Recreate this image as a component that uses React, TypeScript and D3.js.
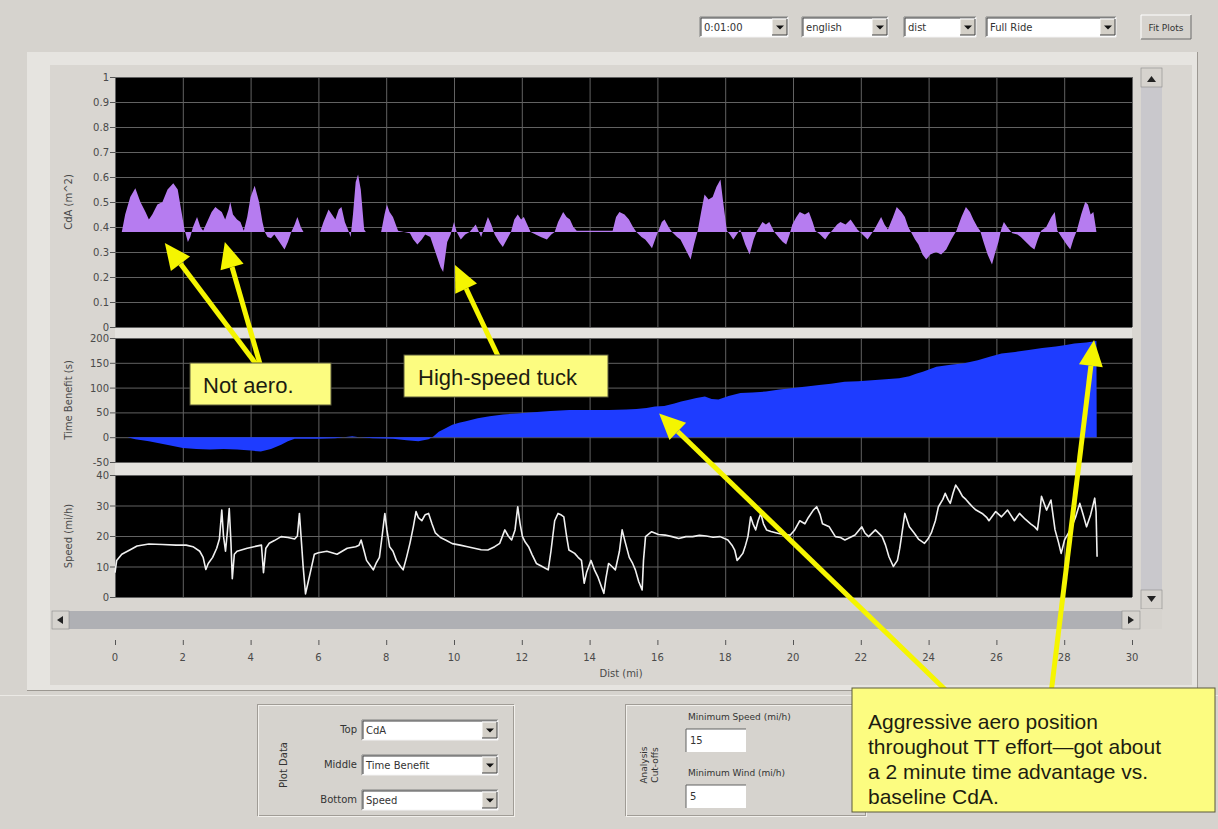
import React from "react";
import * as d3 from "d3";

// ---------- data ----------
const xTicks = [0, 2, 4, 6, 8, 10, 12, 14, 16, 18, 20, 22, 24, 26, 28, 30];
const cdaTicks = [0, 0.1, 0.2, 0.3, 0.4, 0.5, 0.6, 0.7, 0.8, 0.9, 1];
const tbTicks = [-50, 0, 50, 100, 150, 200];
const speedTicks = [0, 10, 20, 30, 40];
const cdaBaseline = 0.38;

const cdaData: [number, number][] = [
  [0.2, 0.38], [0.3, 0.45], [0.45, 0.52], [0.6, 0.555], [0.75, 0.5], [0.9, 0.46], [1.0, 0.43], [1.1, 0.45],
  [1.25, 0.49], [1.4, 0.5], [1.55, 0.55], [1.72, 0.575], [1.85, 0.55], [1.95, 0.47], [2.05, 0.39], [2.15, 0.34],
  [2.22, 0.36], [2.3, 0.4], [2.42, 0.44], [2.52, 0.4], [2.6, 0.385], [2.75, 0.43], [2.85, 0.46], [2.96, 0.48],
  [3.05, 0.47], [3.15, 0.46], [3.25, 0.43], [3.35, 0.47], [3.4, 0.5], [3.48, 0.45], [3.6, 0.43], [3.7, 0.42],
  [3.8, 0.385], [3.9, 0.44], [4.0, 0.52], [4.12, 0.565], [4.25, 0.5], [4.35, 0.42], [4.42, 0.38], [4.5, 0.36],
  [4.6, 0.355], [4.7, 0.37], [4.8, 0.35], [4.9, 0.33], [5.0, 0.31], [5.1, 0.34], [5.2, 0.38], [5.3, 0.41],
  [5.38, 0.44], [5.48, 0.4], [5.56, 0.38], [6.05, 0.38], [6.15, 0.42], [6.3, 0.47], [6.4, 0.45], [6.5, 0.43],
  [6.6, 0.47], [6.68, 0.48], [6.78, 0.42], [6.9, 0.38], [6.95, 0.36], [7.02, 0.45], [7.1, 0.58], [7.17, 0.61],
  [7.25, 0.55], [7.35, 0.39], [7.4, 0.38], [7.85, 0.38], [7.95, 0.45], [8.02, 0.49], [8.1, 0.46], [8.2, 0.44],
  [8.35, 0.385], [8.7, 0.375], [8.8, 0.35], [8.92, 0.33], [9.05, 0.35], [9.15, 0.37], [9.3, 0.36], [9.45, 0.3],
  [9.6, 0.24], [9.68, 0.22], [9.8, 0.34], [9.9, 0.37], [10.0, 0.42], [10.08, 0.38], [10.2, 0.35], [10.33, 0.37],
  [10.46, 0.38], [10.64, 0.41], [10.8, 0.36], [10.9, 0.4], [11.0, 0.44], [11.1, 0.41], [11.2, 0.37], [11.33, 0.34],
  [11.44, 0.32], [11.56, 0.35], [11.68, 0.38], [11.78, 0.43], [11.88, 0.45], [11.98, 0.43], [12.06, 0.44],
  [12.16, 0.41], [12.26, 0.38], [12.41, 0.37], [12.56, 0.36], [12.74, 0.35], [12.87, 0.37], [12.97, 0.38],
  [13.07, 0.42], [13.22, 0.46], [13.32, 0.44], [13.42, 0.43], [13.52, 0.4], [13.62, 0.385], [14.68, 0.385],
  [14.78, 0.44], [14.88, 0.46], [15.03, 0.45], [15.16, 0.43], [15.28, 0.4], [15.38, 0.38], [15.53, 0.36],
  [15.64, 0.35], [15.76, 0.33], [15.84, 0.315], [15.96, 0.36], [16.03, 0.385], [16.13, 0.42], [16.21, 0.43],
  [16.33, 0.4], [16.43, 0.38], [16.58, 0.36], [16.68, 0.35], [16.83, 0.31], [16.98, 0.27], [17.08, 0.33],
  [17.19, 0.385], [17.29, 0.46], [17.39, 0.53], [17.51, 0.51], [17.63, 0.52], [17.74, 0.56], [17.86, 0.59],
  [17.94, 0.5], [18.05, 0.385], [18.14, 0.37], [18.24, 0.35], [18.34, 0.37], [18.44, 0.39], [18.59, 0.33],
  [18.72, 0.29], [18.84, 0.35], [18.94, 0.385], [19.1, 0.42], [19.2, 0.41], [19.3, 0.42], [19.45, 0.38],
  [19.6, 0.355], [19.7, 0.34], [19.8, 0.33], [19.9, 0.37], [19.98, 0.41], [20.1, 0.44], [20.2, 0.46],
  [20.35, 0.45], [20.47, 0.46], [20.58, 0.42], [20.66, 0.385], [20.8, 0.37], [20.95, 0.35], [21.05, 0.37],
  [21.15, 0.385], [21.3, 0.41], [21.4, 0.42], [21.55, 0.41], [21.7, 0.43], [21.8, 0.41], [21.9, 0.39],
  [22.05, 0.37], [22.2, 0.35], [22.3, 0.37], [22.4, 0.39], [22.52, 0.42], [22.6, 0.44], [22.7, 0.41],
  [22.8, 0.39], [22.95, 0.44], [23.06, 0.48], [23.2, 0.46], [23.3, 0.44], [23.4, 0.4], [23.5, 0.375],
  [23.6, 0.35], [23.7, 0.33], [23.82, 0.29], [23.93, 0.27], [24.05, 0.29], [24.22, 0.3], [24.37, 0.29],
  [24.52, 0.31], [24.67, 0.35], [24.82, 0.385], [24.97, 0.44], [25.1, 0.48], [25.22, 0.46], [25.32, 0.43],
  [25.44, 0.4], [25.52, 0.385], [25.62, 0.34], [25.74, 0.29], [25.87, 0.25], [25.97, 0.3], [26.06, 0.34],
  [26.14, 0.39], [26.22, 0.42], [26.32, 0.4], [26.47, 0.375], [26.62, 0.37], [26.72, 0.36], [26.87, 0.34],
  [27.02, 0.32], [27.12, 0.31], [27.22, 0.35], [27.32, 0.385], [27.47, 0.4], [27.62, 0.44], [27.72, 0.46],
  [27.8, 0.385], [27.92, 0.36], [28.07, 0.33], [28.18, 0.31], [28.27, 0.35], [28.37, 0.385], [28.5, 0.45],
  [28.62, 0.5], [28.7, 0.49], [28.78, 0.45], [28.86, 0.46], [28.93, 0.4], [28.95, 0.38],
];

const tbData: [number, number][] = [
  [0.37, 0], [0.6, -4], [1.0, -8], [1.3, -12], [1.6, -16], [2.0, -22], [2.4, -24], [2.8, -25], [3.2, -24],
  [3.6, -25], [4.0, -27], [4.3, -29], [4.6, -24], [4.9, -15], [5.1, -8], [5.3, -3], [6.0, -3], [6.5, -2],
  [7.0, 2], [7.2, 0], [7.6, -2], [8.2, -3], [8.6, -6], [8.95, -8], [9.25, -4], [9.4, 2], [9.55, 11],
  [9.75, 18], [9.95, 25], [10.15, 29], [10.35, 32], [10.7, 38], [11.05, 42], [11.45, 46], [11.85, 48],
  [12.25, 50], [12.85, 53], [13.4, 55], [14.05, 55], [14.58, 55], [15.08, 56], [15.38, 57], [15.68, 59],
  [15.93, 62], [16.2, 63], [16.5, 68], [16.7, 72], [16.9, 75], [17.15, 79], [17.4, 82], [17.6, 77],
  [17.8, 76], [18.1, 83], [18.45, 89], [18.8, 90], [19.2, 92], [19.6, 96], [20.0, 99], [20.4, 102],
  [20.77, 105], [21.12, 108], [21.52, 112], [21.92, 113], [22.33, 115], [22.73, 117], [23.13, 119],
  [23.43, 123], [23.63, 128], [23.83, 132], [24.03, 137], [24.23, 142], [24.65, 146], [25.05, 149],
  [25.45, 155], [25.8, 162], [26.15, 169], [26.55, 172], [26.95, 176], [27.35, 180], [27.75, 183],
  [28.05, 186], [28.3, 189], [28.65, 191], [28.85, 193], [28.95, 194], [28.96, 0],
];

const speedData: [number, number][] = [
  [0, 8], [0.05, 12], [0.2, 14], [0.45, 15.5], [0.65, 16.7], [1.0, 17.4], [1.4, 17.2], [1.8, 17], [2.1, 17],
  [2.3, 16.5], [2.5, 15], [2.6, 13], [2.68, 9], [2.75, 11], [2.88, 13], [3.0, 16], [3.08, 19], [3.15, 28.5],
  [3.2, 20], [3.26, 15], [3.32, 22], [3.37, 29], [3.42, 18], [3.46, 6], [3.52, 14], [3.6, 15], [3.9, 16],
  [4.1, 16.5], [4.32, 17], [4.38, 8], [4.45, 16], [4.55, 17.6], [4.7, 18.5], [4.9, 19.8], [5.1, 19.5],
  [5.3, 19], [5.38, 20], [5.44, 27.4], [5.5, 18], [5.55, 10], [5.62, 1], [5.7, 5], [5.78, 9], [5.88, 14],
  [6.0, 14.5], [6.25, 15], [6.4, 14.5], [6.55, 14], [6.7, 15], [6.85, 16], [7.1, 16.5], [7.2, 17],
  [7.26, 18.7], [7.35, 15], [7.42, 12], [7.55, 10], [7.62, 8.9], [7.7, 11], [7.8, 13], [7.88, 20],
  [7.96, 27.4], [8.02, 22], [8.1, 16.5], [8.2, 15], [8.3, 12], [8.42, 10], [8.5, 8.9], [8.6, 13],
  [8.7, 17.6], [8.8, 23], [8.88, 28], [8.95, 26], [9.05, 25], [9.15, 27], [9.25, 27.4], [9.35, 24],
  [9.45, 21], [9.6, 19.5], [9.75, 18.7], [9.95, 17.5], [10.18, 17], [10.4, 16.5], [10.6, 16], [10.8, 15.5],
  [11.0, 15.4], [11.2, 16.5], [11.35, 17.6], [11.5, 22], [11.6, 20], [11.7, 18.7], [11.8, 22], [11.88, 29.6],
  [11.95, 24], [12.02, 19.8], [12.1, 18], [12.2, 16.5], [12.3, 14], [12.43, 11], [12.6, 10], [12.78, 8.9],
  [12.86, 15], [12.97, 25], [13.07, 27.4], [13.15, 27], [13.24, 26.3], [13.32, 20], [13.39, 15.4],
  [13.56, 14.3], [13.66, 13], [13.76, 12], [13.84, 4.5], [13.91, 8], [14.04, 12], [14.14, 9], [14.24, 6.7],
  [14.36, 3], [14.42, 1.2], [14.48, 6], [14.56, 11], [14.66, 10], [14.76, 8.9], [14.88, 15], [14.96, 22],
  [15.05, 18], [15.17, 13], [15.27, 11], [15.35, 8.9], [15.45, 5], [15.55, 2.3], [15.59, 12], [15.65, 19.8],
  [15.83, 21.4], [16.03, 20.5], [16.23, 20.3], [16.43, 19.8], [16.63, 19.2], [16.84, 19.8], [17.04, 19.8],
  [17.24, 20.2], [17.44, 20], [17.64, 19.6], [17.85, 19.8], [18.08, 18.7], [18.2, 17], [18.28, 15.4],
  [18.35, 12], [18.43, 13], [18.52, 14.3], [18.6, 17], [18.67, 19.8], [18.75, 26.3], [18.82, 24], [18.9, 22],
  [18.97, 25], [19.05, 27.4], [19.13, 24], [19.22, 22], [19.35, 21.5], [19.52, 21], [19.7, 20.5],
  [19.92, 20.3], [20.05, 22], [20.2, 25], [20.35, 24], [20.45, 26], [20.6, 28.5], [20.7, 29.6], [20.8, 27],
  [20.87, 24], [21.07, 23], [21.25, 19.8], [21.4, 19.5], [21.53, 18.7], [21.68, 19.5], [21.83, 20.3],
  [22.03, 23], [22.12, 21], [22.23, 19.8], [22.43, 22], [22.63, 19.8], [22.73, 17], [22.83, 13.2],
  [22.96, 10], [23.08, 12], [23.15, 16], [23.2, 19.8], [23.3, 27.4], [23.43, 23], [23.58, 20.9], [23.7, 19],
  [23.88, 17.6], [23.98, 19], [24.08, 21], [24.2, 25], [24.29, 29.6], [24.42, 32], [24.49, 34], [24.57, 32],
  [24.64, 30.7], [24.72, 34], [24.8, 36.7], [24.9, 35], [25.0, 33], [25.1, 32], [25.2, 30.7], [25.3, 29.5],
  [25.4, 28.5], [25.58, 27.4], [25.72, 26], [25.78, 25], [25.98, 28], [26.15, 26.3], [26.33, 28.5],
  [26.53, 25], [26.68, 27.4], [26.85, 25.5], [27.01, 24], [27.13, 23], [27.21, 22], [27.28, 28], [27.33, 33],
  [27.43, 30], [27.48, 28.5], [27.61, 31.8], [27.68, 26], [27.73, 22], [27.83, 18], [27.91, 14.3],
  [28.01, 18.7], [28.18, 22], [28.33, 26], [28.46, 30.7], [28.56, 27], [28.66, 23], [28.78, 27],
  [28.9, 32.4], [28.94, 28], [28.97, 13.2],
];

// ---------- helpers ----------
const UI_FONT = "'DejaVu Sans', 'Liberation Sans', sans-serif";
const CALLOUT_FONT = "'Liberation Sans', Arial, sans-serif";
const BG = "#d6d3ce";

function Combo({ x, y, w, h, text }: { x: number; y: number; w: number; h: number; text: string }) {
  const bw = 15;
  return (
    <g>
      <rect x={x} y={y} width={w} height={h} fill="#ffffff" />
      <path d={`M${x},${y + h} V${y} H${x + w}`} stroke="#808080" fill="none" strokeWidth={1} />
      <path d={`M${x + 1},${y + h - 1} V${y + 1} H${x + w - 1}`} stroke="#404040" fill="none" strokeWidth={1} />
      <path d={`M${x},${y + h} H${x + w} V${y}`} stroke="#f4f4f4" fill="none" strokeWidth={1} />
      <text x={x + 4} y={y + h / 2 + 4} fontSize={10} fontFamily={UI_FONT} fill="#333">{text}</text>
      <rect x={x + w - bw - 1} y={y + 2} width={bw} height={h - 4} fill="#d4d0c8" />
      <path d={`M${x + w - bw - 1},${y + h - 2} V${y + 2} H${x + w - 1}`} stroke="#ffffff" fill="none" />
      <path d={`M${x + w - bw - 1},${y + h - 2} H${x + w - 1} V${y + 2}`} stroke="#404040" fill="none" />
      <path d={`M${x + w - bw / 2 - 4.5},${y + h / 2 - 1.5} h8 l-4,4 z`} fill="#111" />
    </g>
  );
}

function Arrow({ x1, y1, x2, y2 }: { x1: number; y1: number; x2: number; y2: number }) {
  const ang = Math.atan2(y2 - y1, x2 - x1);
  const hl = 26, hw = 12;
  const bx = x2 - hl * Math.cos(ang), by = y2 - hl * Math.sin(ang);
  const px = -Math.sin(ang), py = Math.cos(ang);
  const pts = [
    [x2, y2],
    [bx + hw * px, by + hw * py],
    [bx - hw * px, by - hw * py],
  ];
  return (
    <g>
      <line x1={x1} y1={y1} x2={bx} y2={by} stroke="#f5f500" strokeWidth={5} />
      <polygon points={pts.map((p) => p.join(",")).join(" ")} fill="#f5f500" />
    </g>
  );
}

function Callout({ x, y, w, h, lines, fs, lh, tx, ty }: any) {
  return (
    <g>
      <rect x={x} y={y} width={w} height={h} fill="#fcfc80" stroke="#5a5a3a" strokeWidth={1} />
      {lines.map((l: string, i: number) => (
        <text key={i} x={tx} y={ty + i * lh} fontSize={fs} fontFamily={CALLOUT_FONT} fill="#1c1c10">{l}</text>
      ))}
    </g>
  );
}

export default function App() {
  const x = d3.scaleLinear().domain([0, 30]).range([115, 1132]);
  const yC = d3.scaleLinear().domain([0, 1]).range([327, 77]);
  const yT = d3.scaleLinear().domain([-50, 200]).range([462, 338]);
  const yS = d3.scaleLinear().domain([0, 40]).range([597, 475]);

  const cdaArea = d3.area<[number, number]>().x((d) => x(d[0])).y0(yC(cdaBaseline)).y1((d) => yC(d[1]));
  const tbArea = d3.area<[number, number]>().x((d) => x(d[0])).y0(yT(0)).y1((d) => yT(d[1]));
  const speedLine = d3.line<[number, number]>().x((d) => x(d[0])).y((d) => yS(d[1]));

  const panels = [
    { y: yC, ticks: cdaTicks, title: "CdA (m^2)" },
    { y: yT, ticks: tbTicks, title: "Time Benefit (s)" },
    { y: yS, ticks: speedTicks, title: "Speed (mi/h)" },
  ];
  const x0 = x.range()[0], x1 = x.range()[1];
  const grid = "#626262";

  return (
    <svg width={1218} height={829} style={{ position: "absolute", left: 0, top: 0 }} xmlns="http://www.w3.org/2000/svg">
      <rect x={0} y={0} width={1218} height={829} fill={BG} />

      {/* top controls */}
      <Combo x={700} y={17} w={88} h={20} text="0:01:00" />
      <Combo x={802} y={17} w={86} h={20} text="english" />
      <Combo x={904} y={17} w={72} h={20} text="dist" />
      <Combo x={986} y={17} w={130} h={20} text="Full Ride" />
      <g>
        <rect x={1141} y={15} width={50} height={24} fill="#d6d3ce" />
        <path d="M1141,39 V15 H1191" stroke="#ffffff" fill="none" />
        <path d="M1141,39 H1191 V15" stroke="#6a6a6a" fill="none" />
        <text x={1166} y={31} fontSize={9} fontFamily={UI_FONT} fill="#333" textAnchor="middle">Fit Plots</text>
      </g>

      {/* outer frame */}
      <rect x={27} y={52} width={1171} height={638} fill="#e6e4e0" />
      <rect x={50} y={65} width={1142} height={620} fill="#d9d6d1" />
      <line x1={1197.5} y1={52} x2={1197.5} y2={690} stroke="#9c9892" />
      <line x1={27} y1={690.5} x2={1198} y2={690.5} stroke="#9c9892" />
      <line x1={0} y1={695.5} x2={1218} y2={695.5} stroke="#ebe9e5" />

      {/* panel separators */}
      <rect x={x0} y={yC(0)} width={x1 - x0} height={yT(200) - yC(0)} fill="#e4e2de" />
      <rect x={x0} y={yT(-50)} width={x1 - x0} height={yS(40) - yT(-50)} fill="#e4e2de" />

      {/* panels */}
      {panels.map((p, i) => {
        const [ymin, ymax] = p.y.domain();
        const top = p.y(ymax), bot = p.y(ymin);
        return (
          <g key={i}>
            <rect x={x0} y={top} width={x1 - x0} height={bot - top} fill="#000" />
            {p.ticks.map((t) => (
              <line key={"h" + t} x1={x0} x2={x1} y1={p.y(t) + 0.5} y2={p.y(t) + 0.5} stroke={grid} strokeWidth={1} />
            ))}
            {xTicks.map((t) => (
              <line key={"v" + t} x1={x(t) + 0.5} x2={x(t) + 0.5} y1={top} y2={bot} stroke={grid} strokeWidth={1} />
            ))}
            {p.ticks.map((t) => (
              <g key={"t" + t}>
                <line x1={x0 - 5} x2={x0} y1={p.y(t) + 0.5} y2={p.y(t) + 0.5} stroke="#555" />
                <text x={x0 - 6} y={p.y(t) + 4} fontSize={10} fontFamily={UI_FONT} fill="#4a4a4a" textAnchor="end">
                  {String(t)}
                </text>
              </g>
            ))}
            <text
              transform={`translate(72,${(top + bot) / 2}) rotate(-90)`}
              fontSize={10}
              fontFamily={UI_FONT}
              fill="#4a4a4a"
              textAnchor="middle"
            >
              {p.title}
            </text>
          </g>
        );
      })}

      {/* data */}
      <path d={cdaArea(cdaData) || ""} fill="#b67cf0" />
      <path d={tbArea(tbData) || ""} fill="#1e3cff" />
      <path d={speedLine(speedData) || ""} fill="none" stroke="#f0f0f0" strokeWidth={1.6} strokeLinejoin="round" />

      {/* vertical scrollbar */}
      <rect x={1141} y={68} width={21} height={541} fill="#c9c8cc" />
      <rect x={1141} y={68} width={21} height={19} fill="#d6d3ce" stroke="#8a8a8a" strokeWidth={0.6} />
      <path d="M1147,82 h9 l-4.5,-6 z" fill="#222" />
      <rect x={1141} y={590} width={21} height={19} fill="#d6d3ce" stroke="#8a8a8a" strokeWidth={0.6} />
      <path d="M1147,596 h9 l-4.5,6 z" fill="#222" />

      {/* horizontal scrollbar */}
      <rect x={52} y={611} width={1088} height={18} fill="#afb0b4" />
      <rect x={52} y={611} width={17} height={18} fill="#d6d3ce" stroke="#8a8a8a" strokeWidth={0.6} />
      <path d="M57,620 l6,-4 v8 z" fill="#222" />
      <rect x={1122} y={611} width={18} height={18} fill="#d6d3ce" stroke="#8a8a8a" strokeWidth={0.6} />
      <path d="M1134,620 l-6,-4 v8 z" fill="#222" />
      <rect x={1141} y={609} width={21} height={20} fill="#d6d3ce" />

      {/* x axis */}
      {xTicks.map((t) => (
        <g key={"xt" + t}>
          <line x1={x(t) + 0.5} x2={x(t) + 0.5} y1={640} y2={645} stroke="#555" />
          <text x={x(t)} y={661} fontSize={10} fontFamily={UI_FONT} fill="#4a4a4a" textAnchor="middle">{t}</text>
        </g>
      ))}
      <text x={621} y={677} fontSize={10} fontFamily={UI_FONT} fill="#4a4a4a" textAnchor="middle">Dist (mi)</text>

      {/* bottom: Plot Data */}
      <rect x={257.5} y={704.5} width={256} height={111} fill="none" stroke="#a09c96" />
      <rect x={258.5} y={705.5} width={256} height={111} fill="none" stroke="#f2f0ec" />
      <text transform="translate(287,765) rotate(-90)" fontSize={10} fontFamily={UI_FONT} fill="#333" textAnchor="middle">Plot Data</text>
      <text x={357} y={733} fontSize={10} fontFamily={UI_FONT} fill="#333" textAnchor="end">Top</text>
      <text x={357} y={768} fontSize={10} fontFamily={UI_FONT} fill="#333" textAnchor="end">Middle</text>
      <text x={357} y={803} fontSize={10} fontFamily={UI_FONT} fill="#333" textAnchor="end">Bottom</text>
      <Combo x={362} y={720} w={136} h={20} text="CdA" />
      <Combo x={362} y={755} w={136} h={20} text="Time Benefit" />
      <Combo x={362} y={790} w={136} h={20} text="Speed" />

      {/* bottom: Analysis cut-offs */}
      <rect x={625.5} y={704.5} width={240} height={111} fill="none" stroke="#a09c96" />
      <rect x={626.5} y={705.5} width={240} height={111} fill="none" stroke="#f2f0ec" />
      <text transform="translate(647,765) rotate(-90)" fontSize={9} fontFamily={UI_FONT} fill="#333" textAnchor="middle">Analysis</text>
      <text transform="translate(658,765) rotate(-90)" fontSize={9} fontFamily={UI_FONT} fill="#333" textAnchor="middle">Cut-offs</text>
      <text x={688} y={720} fontSize={9} fontFamily={UI_FONT} fill="#333">Minimum Speed (mi/h)</text>
      <text x={688} y={776} fontSize={9} fontFamily={UI_FONT} fill="#333">Minimum Wind (mi/h)</text>
      {[{ y: 729, v: "15" }, { y: 785, v: "5" }].map((f) => (
        <g key={f.v}>
          <rect x={686} y={f.y} width={60} height={23} fill="#fff" />
          <path d={`M686,${f.y + 23} V${f.y} H746`} stroke="#606060" fill="none" />
          <text x={690} y={f.y + 15} fontSize={10} fontFamily={UI_FONT} fill="#333">{f.v}</text>
        </g>
      ))}

      {/* annotations */}
      <Arrow x1={256} y1={364} x2={x(1.47)} y2={yC(0.336)} />
      <Arrow x1={260} y1={364} x2={x(3.24)} y2={yC(0.34)} />
      <Arrow x1={498} y1={356} x2={x(10.03)} y2={yC(0.248)} />
      <Callout x={190} y={363} w={141} h={42} lines={["Not aero."]} fs={22} lh={0} tx={203} ty={393} />
      <Callout x={404} y={355} w={204} h={42} lines={["High-speed tuck"]} fs={22} lh={0} tx={418} ty={385} />

      <Arrow x1={958} y1={702} x2={x(16.05)} y2={yT(48)} />
      <Arrow x1={1050} y1={702} x2={x(28.88)} y2={yT(196)} />
      <Callout
        x={852}
        y={688}
        w={363}
        h={124}
        lines={["Aggressive aero position", "throughout TT effort\u2014got about", "a 2 minute time advantage vs.", "baseline CdA."]}
        fs={21}
        lh={25}
        tx={868}
        ty={729}
      />
    </svg>
  );
}
